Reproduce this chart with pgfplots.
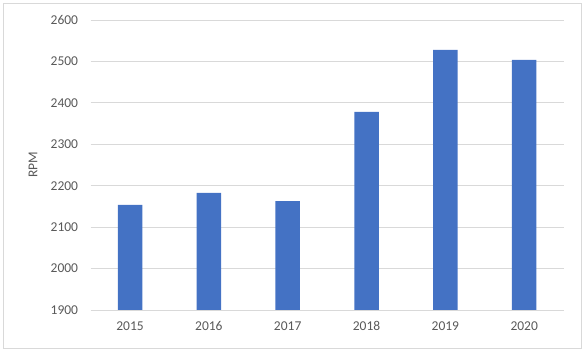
\documentclass[border=0pt]{standalone}
\usepackage{fontspec}
\setmainfont{Carlito}
\usepackage{pgfplots}
\pgfplotsset{compat=1.18}
\definecolor{barblue}{HTML}{4472C4}
\definecolor{gridgrey}{HTML}{D9D9D9}
\definecolor{txtgrey}{HTML}{595959}
\begin{document}
\begin{tikzpicture}
\useasboundingbox (-90.6pt,-43pt) rectangle (493.4pt,310pt);
\draw[gridgrey, line width=0.8pt] (-87.6pt,-38pt) rectangle (491pt,306.7pt);
\begin{axis}[
  at={(0pt,0pt)}, anchor=south west,
  scale only axis,
  width=473pt, height=290pt,
  xmin=-0.5, xmax=5.5,
  ymin=1900, ymax=2600,
  ytick={1900,2000,...,2600},
  xtick=data,
  xticklabels={2015,2016,2017,2018,2019,2020},
  ybar, bar width=24.5pt,
  axis line style={draw=none},
  ymajorgrids, grid style={gridgrey, line width=0.8pt},
  major tick length=0pt,
  tick label style={font=\fontsize{13.5}{15}\selectfont, text=txtgrey},
  /pgf/number format/assume math mode=true,
  /pgf/number format/set thousands separator={},
  yticklabel style={xshift=-9pt},
  xticklabel style={yshift=-8pt},
  ylabel={RPM},
  ylabel style={font=\fontsize{13.5}{15}\selectfont, text=txtgrey, at={(axis description cs:-0.1218,0.5)}, anchor=center},
]
\addplot[fill=barblue, draw=none] coordinates {
  (0,2154) (1,2183) (2,2163) (3,2378) (4,2528) (5,2504)
};
\end{axis}
\end{tikzpicture}
\end{document}
